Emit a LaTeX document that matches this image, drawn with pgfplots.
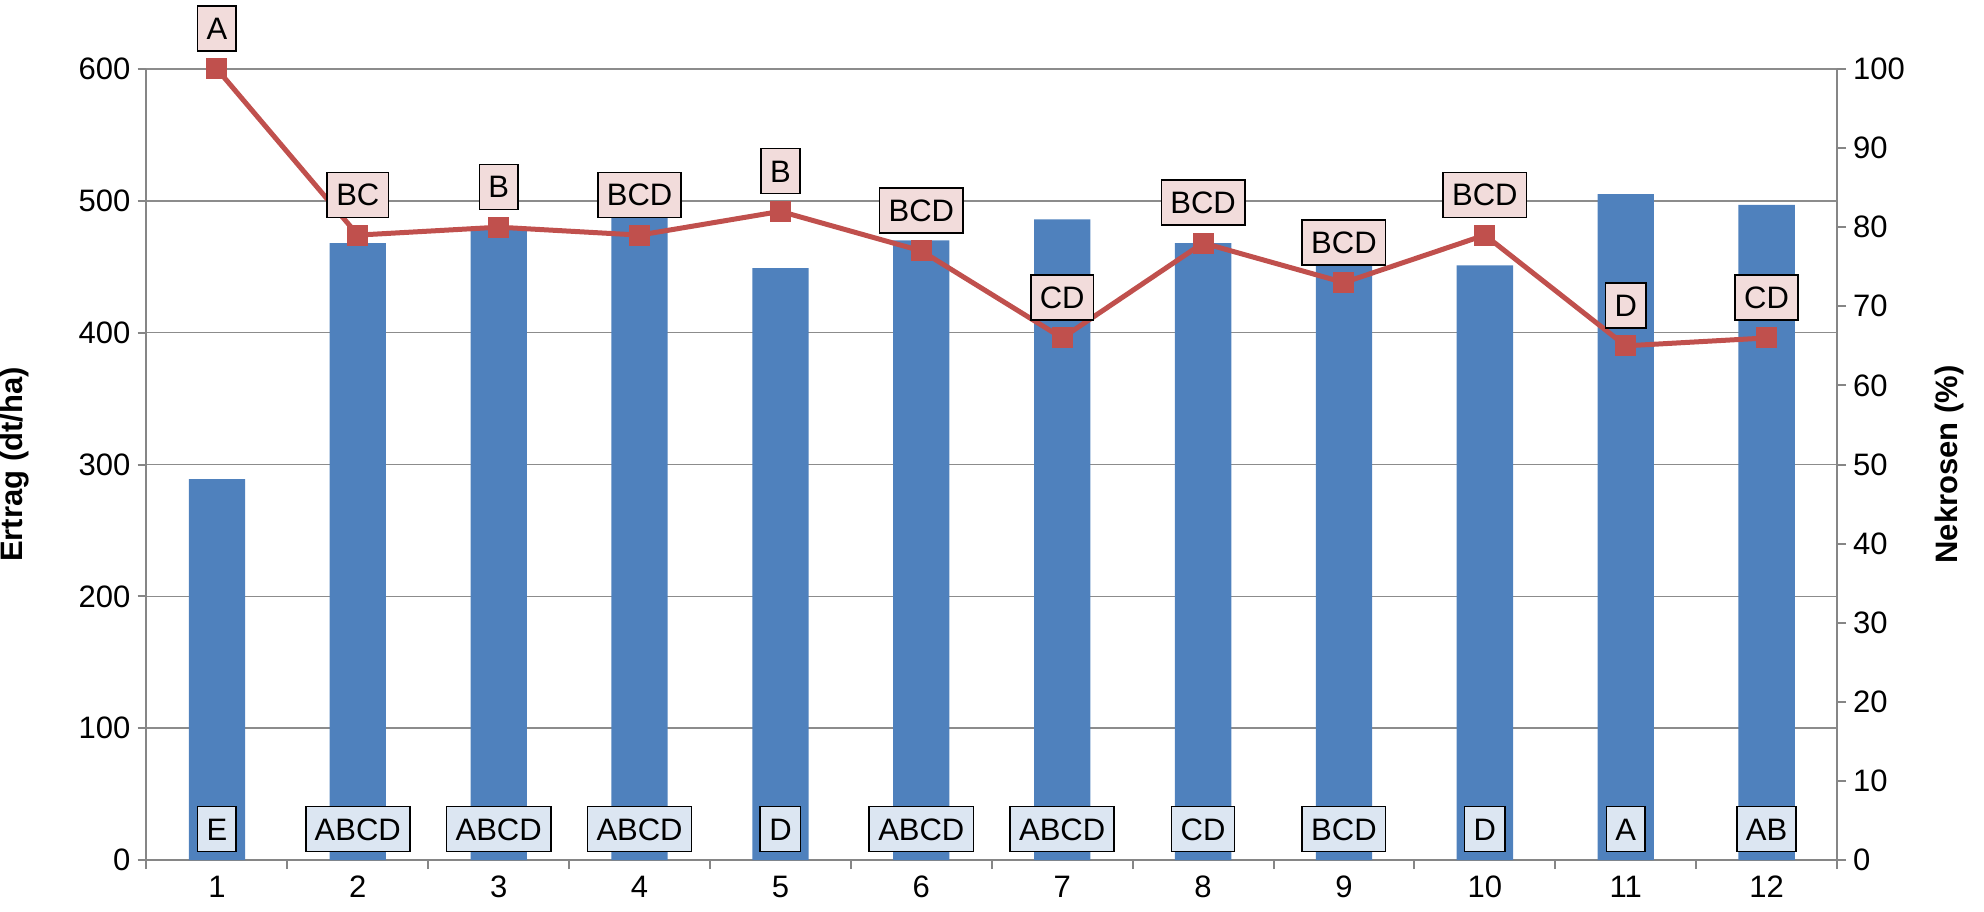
\documentclass[border=0pt]{standalone}
\usepackage{fontspec}
\setmainfont{Liberation Sans}
\usepackage{pgfplots}
\usepackage{pgfplotstable}
\pgfplotsset{compat=1.18}
\definecolor{barblue}{HTML}{4F81BD}
\definecolor{linered}{HTML}{C0504D}
\definecolor{pinkbox}{HTML}{F2DCDB}
\definecolor{bluebox}{HTML}{DCE6F2}
\definecolor{axisgrey}{HTML}{868686}
\definecolor{gridgrey}{HTML}{8C8C8C}
\newcommand{\cfont}{\fontsize{15.5}{18}\selectfont}
\pgfplotstableread{
x ertrag nekrose ly top bottom
1 289 100 23.5 A E
2 468 79 23.5 BC ABCD
3 480 80 23.5 B ABCD
4 490 79 23.5 BCD ABCD
5 449 82 23.5 B D
6 470 77 23.5 BCD ABCD
7 486 66 23.5 CD ABCD
8 468 78 23.5 BCD CD
9 455 73 23.5 BCD BCD
10 451 79 23.5 BCD D
11 505 65 23.5 D A
12 497 66 23.5 CD AB
}\data
\tikzset{
  boxlabel/.style={draw=black, line width=0.8pt, inner xsep=4.5pt, inner ysep=5.75pt,
    text height=11pt, text depth=0pt, font=\cfont, text=black},
}
\begin{document}
\begin{tikzpicture}
\begin{axis}[
  at={(0,0)}, anchor=south west,
  scale only axis, width=845.25pt, height=395.5pt,
  xmin=0.5, xmax=12.5, ymin=0, ymax=600,
  axis x line*=bottom, axis y line*=left,
  axis line style={axisgrey, line width=1pt, -},
  xtick={1,...,12}, major x tick style={draw=none},
  minor xtick={0.5,1.5,...,12.5},
  ytick={0,100,...,600},
  xtick pos=bottom, ytick pos=left,
  tick align=outside,
  major tick length=4.5pt, minor tick length=4.5pt,
  tick style={axisgrey, line width=1pt},
  ymajorgrids, grid style={gridgrey, line width=0.8pt},
  tick label style={font=\cfont, text=black},
  /pgf/number format/assume math mode=true,
  ylabel={\bfseries Ertrag (dt/ha)},
  every axis y label/.style={at={(axis description cs:-0.0778,0.5)}, rotate=90, anchor=center, font=\cfont},
]
\addplot[ybar, bar width=0.4, fill=barblue, draw=none] table[x=x, y=ertrag] {\data};
\addplot[draw=none, mark=none, nodes near coords, point meta=explicit symbolic,
  nodes near coords style={boxlabel, fill=bluebox, anchor=center}]
  table[x=x, y=ly, meta=bottom] {\data};
\end{axis}
\begin{axis}[
  at={(0,0)}, anchor=south west,
  scale only axis, width=845.25pt, height=395.5pt,
  xmin=0.5, xmax=12.5, ymin=0, ymax=100,
  axis x line=none, axis y line*=right,
  axis line style={axisgrey, line width=1pt, -},
  ytick={0,10,...,100}, ytick pos=right,
  tick align=outside, major tick length=4.5pt,
  tick style={axisgrey, line width=1pt},
  tick label style={font=\cfont, text=black},
  /pgf/number format/assume math mode=true,
  ylabel={\bfseries Nekrosen (\%)},
  every axis y label/.style={at={(axis description cs:1.0668,0.5)}, rotate=90, anchor=center, font=\cfont},
]
\addplot[linered, line width=2.5pt, mark=square*, mark size=5pt,
  mark options={solid, fill=linered, draw=linered, line width=0pt},
  nodes near coords, point meta=explicit symbolic,
  nodes near coords style={boxlabel, fill=pinkbox, anchor=south, yshift=8.5pt}]
  table[x=x, y=nekrose, meta=top] {\data};
\end{axis}
\pgfresetboundingbox
\path (-73.25pt,-25.5pt) rectangle (918.75pt,430pt);
\end{tikzpicture}
\end{document}
